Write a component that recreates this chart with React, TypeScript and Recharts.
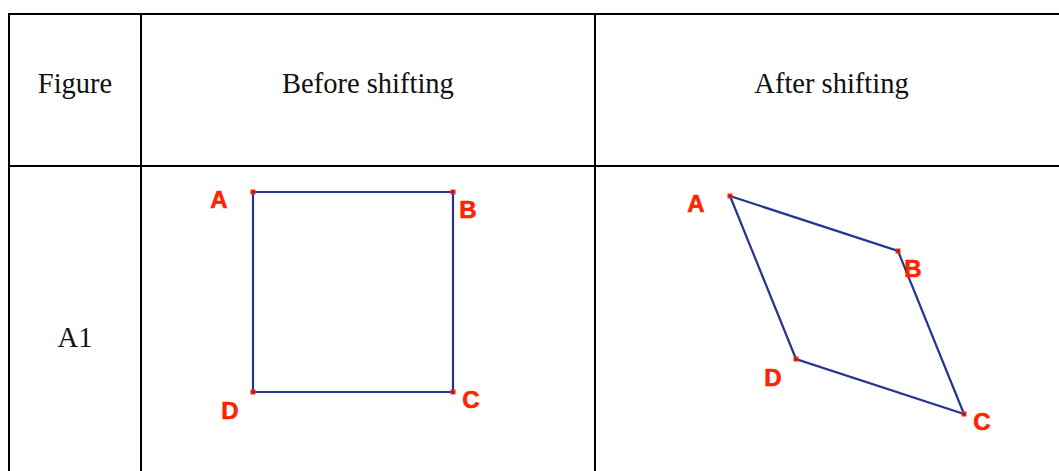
import { ScatterChart, Scatter, XAxis, YAxis, ReferenceLine, ReferenceDot } from "recharts";

// table text
const headers = ["Figure", "Before shifting", "After shifting"];
const rowLabels = ["A1"];

// vertex names and coordinates (page pixels)
const vertexNames = ["A", "B", "C", "D"];
const beforeX = [253, 453, 453, 253];
const beforeY = [192, 192, 392, 392];
const afterX = [730, 898, 964, 796];
const afterY = [196, 251, 414, 359];

// table grid
const colEdges = [9, 141, 595, 1068];
const rowEdges = [14, 166];

const W = 1059;
const H = 471;
const BLUE = "#26338f";
const RED = "#ff2400";
const SERIF = "'Liberation Serif', 'Times New Roman', serif";

// label offset from each vertex
const labelOffset: Record<string, [number, number]> = {
  A: [-34, 7],
  B: [15, 17],
  C: [18, 7],
  D: [-23, 18],
};

const toPoints = (xs: number[], ys: number[]) =>
  vertexNames.map((name, i) => ({ name, x: xs[i], y: ys[i] }));

const beforePts = toPoints(beforeX, beforeY);
const afterPts = toPoints(afterX, afterY);
const closed = (pts: { name: string; x: number; y: number }[]) => [...pts, pts[0]];

const Vertex = (props: any) => {
  const { cx, cy, payload } = props;
  const [dx, dy] = labelOffset[payload.name];
  return (
    <g>
      <rect x={cx - 2.5} y={cy - 2.5} width={5} height={5} fill={RED} />
      <rect x={cx - 1} y={cy - 1} width={2} height={2} fill={BLUE} />
      <text
        x={cx + dx}
        y={cy + dy}
        textAnchor="middle"
        dominantBaseline="central"
        fill={RED}
        stroke={RED}
        strokeWidth={0.6}
        fontSize={24}
        fontWeight="bold"
        fontFamily="'Liberation Sans', Arial, sans-serif"
      >
        {payload.name}
      </text>
    </g>
  );
};

const NoDot = () => <g />;

const headerY = 83;
const rowY = [337];

export default function App() {
  const colMid = headers.map((_, i) => (colEdges[i] + colEdges[i + 1]) / 2);
  return (
    <div style={{ position: "absolute", left: 0, top: 0, width: W, height: H, background: "#fff" }}>
      <ScatterChart width={W} height={H} margin={{ top: 0, right: 0, bottom: 0, left: 0 }}>
        <XAxis type="number" dataKey="x" domain={[0, W]} hide />
        <YAxis type="number" dataKey="y" domain={[0, H]} reversed hide />

        {rowEdges.map((y) => (
          <ReferenceLine
            key={"h" + y}
            segment={[{ x: colEdges[0] - 1, y }, { x: W, y }]}
            stroke="#000"
            strokeWidth={2}
          />
        ))}
        {colEdges.slice(0, 3).map((x) => (
          <ReferenceLine
            key={"v" + x}
            segment={[{ x, y: rowEdges[0] - 1 }, { x, y: H }]}
            stroke="#000"
            strokeWidth={2}
          />
        ))}

        {headers.map((h, i) => (
          <ReferenceDot
            key={h}
            x={colMid[i]}
            y={headerY}
            r={0}
            fill="none"
            stroke="none"
            label={{ value: h, position: "center", fill: "#111", fontSize: 28.5, fontFamily: SERIF }}
          />
        ))}
        {rowLabels.map((r, i) => (
          <ReferenceDot
            key={r}
            x={colMid[0]}
            y={rowY[i]}
            r={0}
            fill="none"
            stroke="none"
            label={{ value: r, position: "center", fill: "#111", fontSize: 28.5, fontFamily: SERIF }}
          />
        ))}

        <Scatter data={closed(beforePts)} line={{ stroke: BLUE, strokeWidth: 2.2 }} shape={NoDot} isAnimationActive={false} />
        <Scatter data={beforePts} shape={Vertex} isAnimationActive={false} />
        <Scatter data={closed(afterPts)} line={{ stroke: BLUE, strokeWidth: 2.2 }} shape={NoDot} isAnimationActive={false} />
        <Scatter data={afterPts} shape={Vertex} isAnimationActive={false} />
      </ScatterChart>
    </div>
  );
}
